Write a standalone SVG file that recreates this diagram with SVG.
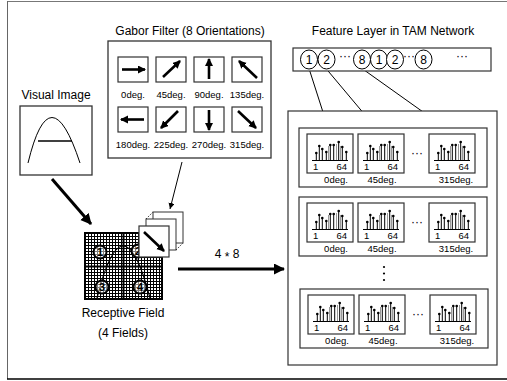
<svg xmlns="http://www.w3.org/2000/svg" width="507" height="381" viewBox="0 0 507 381">
<style>
text{font-family:"Liberation Sans",Arial,sans-serif;fill:#000}
.t12{font-size:12px}
.t9{font-size:9.5px}
.box{fill:#fff;stroke:#000;stroke-width:1}
.box2{fill:#fff;stroke:#333;stroke-width:1.3}
.thin{stroke:#000;stroke-width:1;fill:none}
.farr{stroke:#000;stroke-width:2.6;fill:none;marker-end:url(#hd)}
</style>
<defs>
<marker id="hd" markerUnits="userSpaceOnUse" markerWidth="9" markerHeight="9" refX="7" refY="4" orient="auto"><path d="M0,0 L8,4 L0,8 Z" fill="#000"/></marker>
<marker id="hdb" markerUnits="userSpaceOnUse" markerWidth="12" markerHeight="12" refX="10" refY="5.5" orient="auto"><path d="M0,0 L11,5.5 L0,11 Z" fill="#000"/></marker>
<marker id="hds" markerUnits="userSpaceOnUse" markerWidth="8" markerHeight="8" refX="6" refY="3" orient="auto"><path d="M0,0 L6,3 L0,6 Z" fill="#000"/></marker>
<g id="spec">
<rect x="0" y="0" width="46" height="39" fill="#fff" stroke="#333" stroke-width="1.2"/>
<path d="M5 26.5H41" stroke="#000" stroke-width="1"/>
<g stroke="#999" stroke-width="1"><path d="M21.5 26V12M29.5 26V10M33.5 26V12"/></g>
<g stroke="#000" stroke-width="1"><path d="M9.3 26V19M12.3 26V12M15.3 26V15M19.3 26V18M23.3 26V11M26.7 26V11M31.7 26V8M35.3 26V13M39.3 26V18"/></g>
<g fill="#000"><circle cx="9.3" cy="19" r="1.3"/><circle cx="12.3" cy="12" r="1.3"/><circle cx="15.3" cy="15" r="1.3"/><circle cx="19.3" cy="18" r="1.3"/><circle cx="23.3" cy="11" r="1.3"/><circle cx="26.7" cy="11" r="1.3"/><circle cx="31.7" cy="8" r="1.3"/><circle cx="35.3" cy="13" r="1.3"/><circle cx="39.3" cy="18" r="1.3"/></g>
</g>
</defs>
<rect width="507" height="381" fill="#fff"/>
<!-- frame -->
<path d="M7 1.5H507" stroke="#777" stroke-width="1"/>
<path d="M7.5 1V379" stroke="#666" stroke-width="1"/>
<path d="M7 379H507" stroke="#000" stroke-width="1.5"/>

<!-- connectors -->
<g id="connectors">
<path d="M52 179 L91 224" stroke="#000" stroke-width="3" fill="none" marker-end="url(#hdb)"/>
<path d="M182 162 L170 209" class="thin" marker-end="url(#hds)"/>
<path d="M178 269 H284" stroke="#000" stroke-width="3" fill="none" marker-end="url(#hdb)"/>
<path d="M309 68.5 L330 134" class="thin"/>
<path d="M326 68.5 L381 134" class="thin"/>
<path d="M362 68.5 L454 134" class="thin"/>
</g>

<!-- Visual image -->
<g id="visual-image">
<text class="t12" x="56" y="99" text-anchor="middle">Visual Image</text>
<rect class="box2" x="20" y="106" width="72" height="69"/>
<path d="M28 163 Q50 72 80 163" class="thin" stroke-width="1.2"/>
<path d="M38 141H72" stroke="#000" stroke-width="1.5"/>
</g>

<!-- Gabor filter -->
<g id="gabor-filter">
<text class="t12" x="190" y="35" text-anchor="middle">Gabor Filter (8 Orientations)</text>
<rect class="box2" x="108" y="41" width="163" height="117"/>
<g fill="#fff" stroke="#333" stroke-width="1.2">
<rect x="118" y="57" width="30" height="25"/><rect x="156" y="57" width="30" height="25"/><rect x="194" y="57" width="30" height="25"/><rect x="232" y="57" width="30" height="25"/>
<rect x="118" y="107" width="30" height="25"/><rect x="156" y="107" width="30" height="25"/><rect x="194" y="107" width="30" height="25"/><rect x="232" y="107" width="30" height="25"/>
</g>
<path class="farr" d="M122 69.5H145"/>
<path class="farr" d="M163 77 L180 61"/>
<path class="farr" d="M209 79 V59"/>
<path class="farr" d="M257 78 L239 61"/>
<path class="farr" d="M144 119.5H121"/>
<path class="farr" d="M178 111 L161 128"/>
<path class="farr" d="M209 110 V130"/>
<path class="farr" d="M238 111 L256 128"/>
<g class="t9" text-anchor="middle">
<text x="133" y="98">0deg.</text><text x="171" y="98">45deg.</text><text x="209" y="98">90deg.</text><text x="247" y="98">135deg.</text>
<text x="133" y="148">180deg.</text><text x="171" y="148">225deg.</text><text x="209" y="148">270deg.</text><text x="247" y="148">315deg.</text>
</g>
</g>

<!-- Receptive field -->
<g id="receptive-field">
<rect x="85" y="233" width="77" height="66" fill="#fff"/>
<path stroke="#000" stroke-width="1" d="M88.5 233V299M91.5 233V299M94.5 233V299M97.5 233V299M100.5 233V299M103.5 233V299M106.5 233V299M109.5 233V299M112.5 233V299M115.5 233V299M118.5 233V299M121.5 233V299M126.5 233V299M129.5 233V299M132.5 233V299M135.5 233V299M138.5 233V299M141.5 233V299M144.5 233V299M147.5 233V299M150.5 233V299M153.5 233V299M156.5 233V299M159.5 233V299 M85 236.5H162M85 239.5H162M85 242.5H162M85 245.5H162M85 248.5H162M85 251.5H162M85 254.5H162M85 257.5H162M85 260.5H162M85 263.5H162M85 269.5H162M85 272.5H162M85 275.5H162M85 278.5H162M85 281.5H162M85 284.5H162M85 287.5H162M85 290.5H162M85 293.5H162M85 296.5H162"/>
<rect x="85" y="233" width="77" height="66" fill="none" stroke="#000" stroke-width="2"/>
<path d="M123.5 233V299M85 266.5H162" stroke="#000" stroke-width="2"/>
<path d="M97 298 Q123 194 150 298" fill="none" stroke="#000" stroke-width="1.2"/>
<g fill="#fff" fill-opacity="0.5" stroke="#000" stroke-width="2">
<circle cx="100" cy="252" r="6.5"/><circle cx="138" cy="251" r="6.5"/><circle cx="102" cy="287" r="6.5"/><circle cx="140" cy="287" r="6.5"/>
</g>
<g font-size="11" font-weight="bold" text-anchor="middle">
<text x="100" y="256">1</text><text x="138" y="255">2</text><text x="102" y="291">3</text><text x="140" y="291">4</text>
</g>
<text class="t12" x="123" y="317" text-anchor="middle">Receptive Field</text>
<text class="t12" x="123" y="337" text-anchor="middle">(4 Fields)</text>
</g>

<!-- stacked filters -->
<g id="filter-stack">
<rect x="153" y="212" width="30" height="31" fill="#fff" stroke="#333" stroke-width="1"/>
<path d="M146 219 L153 212 M176 250 L183 243" stroke="#333" stroke-width="1" stroke-dasharray="1.5,1.5"/>
<rect x="146" y="219" width="30" height="31" fill="#fff" stroke="#333" stroke-width="1"/>
<rect x="139" y="226" width="30" height="31" fill="#fff" stroke="#333" stroke-width="1.2"/>
<path class="farr" d="M144 232 L164 251"/>
</g>

<text class="t12" x="227" y="258" text-anchor="middle">4 <tspan dy="3">*</tspan><tspan dy="-3"> 8</tspan></text>

<!-- Feature layer -->
<g id="feature-layer">
<text class="t12" x="393" y="35" text-anchor="middle">Feature Layer in TAM Network</text>
<rect x="293" y="48" width="198" height="23" fill="#fff" stroke="#333" stroke-width="1.2"/>
<g fill="#fff" stroke="#000" stroke-width="1">
<ellipse cx="309" cy="59.5" rx="8.5" ry="9.5"/><ellipse cx="326.5" cy="59.5" rx="8.5" ry="9.5"/><ellipse cx="362" cy="59.5" rx="8.5" ry="9.5"/><ellipse cx="379" cy="59.5" rx="8.5" ry="9.5"/><ellipse cx="395" cy="59.5" rx="8.5" ry="9.5"/><ellipse cx="423.5" cy="59.5" rx="8.5" ry="9.5"/>
</g>
<g class="t12" text-anchor="middle">
<text x="309" y="64">1</text><text x="326.5" y="64">2</text><text x="362" y="64">8</text><text x="379" y="64">1</text><text x="395" y="64">2</text><text x="423.5" y="64">8</text>
<text x="345" y="60">···</text><text x="409" y="60">···</text><text x="462" y="60">···</text>
</g>
</g>

<!-- TAM groups -->
<g id="tam-network">
<rect x="288" y="111" width="209" height="254" fill="#fff" stroke="#333" stroke-width="1.2"/>
<g id="group-1">
<rect x="299" y="128" width="188" height="59" fill="#fff" stroke="#333" stroke-width="1.2"/>
<use href="#spec" x="307" y="134"/><use href="#spec" x="358" y="134"/><use href="#spec" x="429" y="134"/>
<text class="t12" x="417" y="157" text-anchor="middle">···</text>
<g class="t9"><text x="313" y="170">1</text><text x="347" y="170" text-anchor="end">64</text><text x="364" y="170">1</text><text x="398" y="170" text-anchor="end">64</text><text x="435" y="170">1</text><text x="469" y="170" text-anchor="end">64</text></g>
<g class="t9" text-anchor="middle"><text x="336" y="183">0deg.</text><text x="382" y="183">45deg.</text><text x="456" y="183">315deg.</text></g>
</g>
<g id="group-2">
<rect x="299" y="197" width="188" height="59" fill="#fff" stroke="#333" stroke-width="1.2"/>
<use href="#spec" x="307" y="203"/><use href="#spec" x="358" y="203"/><use href="#spec" x="429" y="203"/>
<text class="t12" x="417" y="226" text-anchor="middle">···</text>
<g class="t9"><text x="313" y="239">1</text><text x="347" y="239" text-anchor="end">64</text><text x="364" y="239">1</text><text x="398" y="239" text-anchor="end">64</text><text x="435" y="239">1</text><text x="469" y="239" text-anchor="end">64</text></g>
<g class="t9" text-anchor="middle"><text x="336" y="252">0deg.</text><text x="382" y="252">45deg.</text><text x="456" y="252">315deg.</text></g>
</g>
<g fill="#000"><circle cx="384" cy="267" r="1.1"/><circle cx="384" cy="273.5" r="1.1"/><circle cx="384" cy="280" r="1.1"/></g>
<g id="group-3">
<rect x="300" y="289" width="188" height="59" fill="#fff" stroke="#333" stroke-width="1.2"/>
<use href="#spec" x="308" y="295"/><use href="#spec" x="359" y="295"/><use href="#spec" x="430" y="295"/>
<text class="t12" x="418" y="318" text-anchor="middle">···</text>
<g class="t9"><text x="314" y="331">1</text><text x="348" y="331" text-anchor="end">64</text><text x="365" y="331">1</text><text x="399" y="331" text-anchor="end">64</text><text x="436" y="331">1</text><text x="470" y="331" text-anchor="end">64</text></g>
<g class="t9" text-anchor="middle"><text x="337" y="344">0deg.</text><text x="383" y="344">45deg.</text><text x="457" y="344">315deg.</text></g>
</g>
</g>
</svg>
